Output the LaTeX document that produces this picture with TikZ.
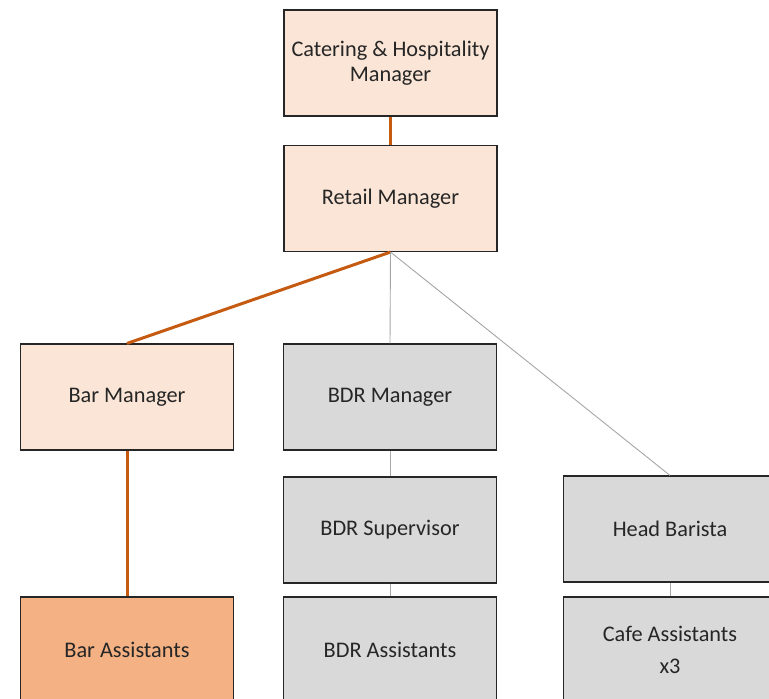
\documentclass[tikz,border=0pt]{standalone}
\usepackage{fontspec}
\setmainfont{Carlito}
\definecolor{peach}{HTML}{FBE5D6}
\definecolor{peachdark}{HTML}{F4B183}
\definecolor{boxgray}{HTML}{D9D9D9}
\definecolor{lineorange}{HTML}{C55A11}
\definecolor{linegray}{HTML}{A6A6A6}
\definecolor{textdark}{HTML}{262626}
\begin{document}
\begin{tikzpicture}[x=1pt,y=-1pt,
  orgbox/.style={draw=textdark, line width=1.1pt, minimum width=213pt, minimum height=106pt,
    inner sep=0pt, align=center, font=\fontsize{22.3}{32}\selectfont, text=textdark},
  tightlines/.style={font=\fontsize{22.3}{25.5}\selectfont},
  lightbox/.style={orgbox, fill=peach},
  darkbox/.style={orgbox, fill=peachdark},
  graybox/.style={orgbox, fill=boxgray},
  strong/.style={draw=lineorange, line width=3pt},
  weak/.style={draw=linegray, line width=0.9pt}]
\useasboundingbox (0,0) rectangle (769,699);
\clip (0,0) rectangle (769,699);
\fill[white] (0,0) rectangle (769,699);
\node[lightbox, tightlines] (chm) at (390.5,63) {Catering \& Hospitality\\Manager};
\node[lightbox] (ret) at (390.5,198.5) {Retail Manager};
\node[lightbox] (barm) at (127,397) {Bar Manager};
\node[graybox] (bdrm) at (390,397) {BDR Manager};
\node[graybox] (bdrs) at (390,530) {BDR Supervisor};
\node[graybox] (head) at (670,529) {Head Barista};
\node[darkbox] (bara) at (127,650) {Bar Assistants};
\node[graybox] (bdra) at (390,650) {BDR Assistants};
\node[graybox] (cafe) at (670,650) {Cafe Assistants\\x3};
\draw[strong] (chm.south) -- (ret.north);
\draw[strong] (ret.south) -- (barm.north);
\draw[weak] (ret.south) -- (bdrm.north);
\draw[weak] (ret.south) -- (head.north);
\draw[strong] (barm.south) -- (bara.north);
\draw[weak] (bdrm.south) -- (bdrs.north);
\draw[weak] (bdrs.south) -- (bdra.north);
\draw[weak] (head.south) -- (cafe.north);
\end{tikzpicture}
\end{document}
